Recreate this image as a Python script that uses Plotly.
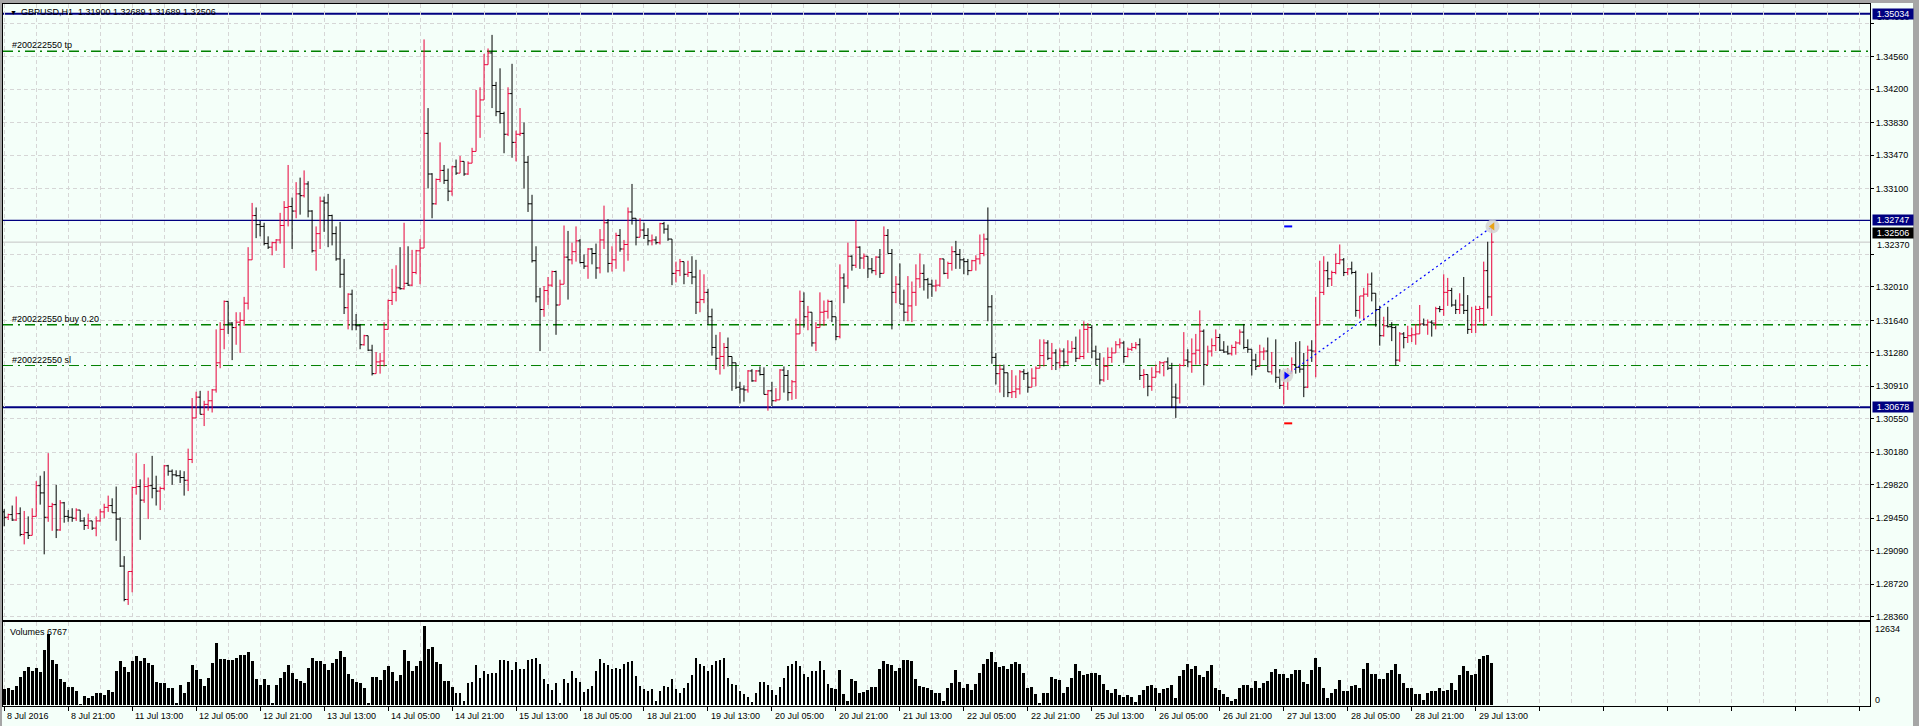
import plotly.graph_objects as go

# ---------------- data ----------------
symbol_title = "GBPUSD,H1  1.31900 1.32689 1.31689 1.32506"
first_open = 1.2952

highs = [
    1.2955,1.2950,1.2959,1.2969,1.2957,1.2953,1.2947,1.2956,1.2986,1.2992,
    1.2997,1.3017,1.2962,1.2982,1.2965,1.2963,1.2954,1.2956,1.2956,1.2951,
    1.2946,1.2950,1.2942,1.2947,1.2955,1.2961,1.2970,1.2967,1.2980,1.2946,
    1.2903,1.2886,1.2980,1.3017,1.2988,1.3005,1.2990,1.3014,1.2992,1.2980,
    1.3004,1.3004,1.2999,1.2998,1.2998,1.2997,1.3022,1.3078,1.3085,1.3086,
    1.3075,1.3086,1.3088,1.3154,1.3162,1.3186,1.3185,1.3162,1.3173,1.3173,
    1.3190,1.3245,1.3294,1.3289,1.3274,1.3272,1.3257,1.3251,1.3254,1.3283,
    1.3296,1.3336,1.3300,1.3317,1.3322,1.3330,1.3318,1.3286,1.3268,1.3301,
    1.3301,1.3304,1.3281,1.3268,1.3273,1.3232,1.3194,1.3198,1.3171,1.3160,
    1.3148,1.3147,1.3137,1.3129,1.3128,1.3162,1.3187,1.3221,1.3225,1.3245,
    1.3272,1.3246,1.3242,1.3242,1.3254,1.3475,1.3399,1.3327,1.3321,1.3361,
    1.3336,1.3332,1.3335,1.3342,1.3346,1.3340,1.3340,1.3355,1.3419,1.3422,
    1.3459,1.3465,1.3480,1.3428,1.3443,1.3395,1.3422,1.3448,1.3374,1.3399,
    1.3383,1.3346,1.3303,1.3246,1.3200,1.3202,1.3212,1.3219,1.3219,1.3209,
    1.3269,1.3263,1.3250,1.3268,1.3254,1.3237,1.3244,1.3244,1.3249,1.3265,
    1.3291,1.3276,1.3246,1.3261,1.3265,1.3253,1.3289,1.3315,1.3277,1.3277,
    1.3272,1.3266,1.3259,1.3257,1.3272,1.3273,1.3270,1.3254,1.3229,1.3232,
    1.3229,1.3230,1.3235,1.3231,1.3220,1.3215,1.3199,1.3177,1.3148,1.3151,
    1.3139,1.3145,1.3124,1.3117,1.3096,1.3092,1.3109,1.3110,1.3109,1.3113,
    1.3112,1.3087,1.3096,1.3089,1.3110,1.3113,1.3109,1.3098,1.3166,1.3197,
    1.3195,1.3180,1.3173,1.3162,1.3195,1.3186,1.3187,1.3186,1.3166,1.3226,
    1.3216,1.3250,1.3236,1.3275,1.3246,1.3238,1.3235,1.3233,1.3235,1.3243,
    1.3268,1.3265,1.3243,1.3213,1.3227,1.3198,1.3213,1.3207,1.3226,1.3238,
    1.3226,1.3211,1.3209,1.3209,1.3233,1.3232,1.3229,1.3246,1.3252,1.3243,
    1.3233,1.3232,1.3231,1.3236,1.3259,1.3260,1.3289,1.3192,1.3128,1.3115,
    1.3115,1.3105,1.3109,1.3103,1.3109,1.3110,1.3107,1.3111,1.3113,1.3143,
    1.3143,1.3142,1.3139,1.3132,1.3133,1.3133,1.3142,1.3141,1.3146,1.3154,
    1.3163,1.3161,1.3159,1.3136,1.3128,1.3123,1.3134,1.3134,1.3141,1.3144,
    1.3141,1.3134,1.3139,1.3140,1.3144,1.3110,1.3102,1.3112,1.3115,1.3119,
    1.3118,1.3123,1.3117,1.3094,1.3116,1.3151,1.3132,1.3144,1.3149,1.3175,
    1.3154,1.3136,1.3144,1.3154,1.3149,1.3141,1.3136,1.3137,1.3141,1.3154,
    1.3160,1.3143,1.3131,1.3127,1.3137,1.3134,1.3145,1.3129,1.3143,1.3110,
    1.3105,1.3111,1.3123,1.3140,1.3141,1.3128,1.3136,1.3142,1.3190,1.3230,
    1.3235,1.3229,1.3219,1.3238,1.3248,1.3233,1.3222,1.3229,1.3219,1.3191,
    1.3200,1.3216,1.3217,1.3186,1.3180,1.3168,1.3179,1.3162,1.3158,1.3151,
    1.3151,1.3158,1.3156,1.3160,1.3181,1.3166,1.3165,1.3164,1.3179,1.3180,
    1.3215,1.3211,1.3200,1.3187,1.3194,1.3212,1.3192,1.3179,1.3180,1.3180,
    1.3229,1.3251,1.32689,
]

lows = [
    1.2936,1.2943,1.2942,1.2942,1.2925,1.2916,1.2922,1.2927,1.2950,1.2960,
    1.2905,1.2941,1.2931,1.2923,1.2931,1.2940,1.2941,1.2941,1.2942,1.2941,
    1.2932,1.2933,1.2932,1.2925,1.2941,1.2945,1.2952,1.2951,1.2920,1.2891,
    1.2853,1.2849,1.2863,1.2971,1.2921,1.2962,1.2944,1.2967,1.2959,1.2954,
    1.2976,1.2992,1.2982,1.2991,1.2984,1.2970,1.2975,1.3006,1.3056,1.3060,
    1.3047,1.3064,1.3062,1.3084,1.3111,1.3132,1.3149,1.3120,1.3137,1.3128,
    1.3158,1.3176,1.3231,1.3255,1.3257,1.3247,1.3243,1.3236,1.3241,1.3249,
    1.3222,1.3268,1.3243,1.3277,1.3281,1.3300,1.3278,1.3239,1.3219,1.3243,
    1.3262,1.3245,1.3247,1.3230,1.3200,1.3171,1.3154,1.3153,1.3153,1.3132,
    1.3136,1.3130,1.3103,1.3105,1.3105,1.3113,1.3158,1.3181,1.3185,1.3198,
    1.3198,1.3202,1.3202,1.3215,1.3204,1.3244,1.3310,1.3277,1.3292,1.3317,
    1.3315,1.3296,1.3302,1.3325,1.3327,1.3324,1.3325,1.3338,1.3351,1.3366,
    1.3408,1.3448,1.3399,1.3390,1.3382,1.3349,1.3368,1.3344,1.3340,1.3368,
    1.3310,1.3284,1.3228,1.3184,1.3130,1.3168,1.3181,1.3201,1.3148,1.3186,
    1.3204,1.3187,1.3226,1.3229,1.3227,1.3221,1.3210,1.3226,1.3210,1.3216,
    1.3243,1.3217,1.3218,1.3221,1.3240,1.3218,1.3230,1.3270,1.3247,1.3256,
    1.3254,1.3247,1.3247,1.3248,1.3248,1.3260,1.3252,1.3203,1.3206,1.3213,
    1.3204,1.3212,1.3204,1.3171,1.3173,1.3183,1.3159,1.3125,1.3109,1.3104,
    1.3110,1.3113,1.3086,1.3088,1.3072,1.3074,1.3084,1.3096,1.3096,1.3103,
    1.3082,1.3064,1.3069,1.3074,1.3079,1.3084,1.3075,1.3076,1.3077,1.3154,
    1.3156,1.3153,1.3135,1.3130,1.3158,1.3158,1.3166,1.3162,1.3142,1.3144,
    1.3183,1.3199,1.3219,1.3222,1.3221,1.3221,1.3211,1.3216,1.3214,1.3211,
    1.3216,1.3238,1.3154,1.3183,1.3182,1.3163,1.3163,1.3162,1.3180,1.3200,
    1.3197,1.3188,1.3190,1.3196,1.3201,1.3215,1.3210,1.3219,1.3221,1.3221,
    1.3215,1.3214,1.3219,1.3219,1.3226,1.3235,1.3163,1.3116,1.3093,1.3084,
    1.3079,1.3079,1.3078,1.3078,1.3082,1.3098,1.3084,1.3091,1.3091,1.3113,
    1.3113,1.3120,1.3109,1.3109,1.3111,1.3113,1.3115,1.3128,1.3118,1.3121,
    1.3121,1.3128,1.3122,1.3114,1.3093,1.3096,1.3098,1.3117,1.3130,1.3133,
    1.3117,1.3123,1.3130,1.3132,1.3098,1.3089,1.3080,1.3086,1.3101,1.3105,
    1.3102,1.3109,1.3067,1.3056,1.3072,1.3113,1.3112,1.3106,1.3115,1.3115,
    1.3092,1.3115,1.3124,1.3130,1.3130,1.3128,1.3126,1.3125,1.3126,1.3137,
    1.3132,1.3128,1.3103,1.3109,1.3113,1.3120,1.3107,1.3104,1.3095,1.3088,
    1.3071,1.3087,1.3105,1.3105,1.3106,1.3079,1.3089,1.3118,1.3101,1.3181,
    1.3192,1.3201,1.3202,1.3215,1.3226,1.3213,1.3214,1.3215,1.3168,1.3166,
    1.3164,1.3190,1.3185,1.3157,1.3136,1.3146,1.3156,1.3141,1.3114,1.3118,
    1.3133,1.3139,1.3140,1.3137,1.3158,1.3158,1.3148,1.3146,1.3154,1.3173,
    1.3169,1.3180,1.3179,1.3171,1.3171,1.3171,1.3149,1.3150,1.3150,1.3162,
    1.3158,1.3177,1.31689,
]

closes = [
    1.2946,1.2949,1.2943,1.2950,1.2927,1.2929,1.2926,1.2947,1.2981,1.2973,
    1.2946,1.2958,1.2960,1.2932,1.2962,1.2947,1.2946,1.2945,1.2954,1.2942,
    1.2937,1.2942,1.2934,1.2942,1.2952,1.2957,1.2959,1.2951,1.2944,1.2892,
    1.2855,1.2886,1.2979,1.2980,1.2965,1.2980,1.2981,1.2978,1.2975,1.2978,
    1.3003,1.2997,1.2993,1.2992,1.2990,1.2987,1.3010,1.3056,1.3079,1.3060,
    1.3071,1.3075,1.3087,1.3117,1.3154,1.3185,1.3161,1.3156,1.3162,1.3164,
    1.3183,1.3231,1.3280,1.3270,1.3268,1.3249,1.3245,1.3250,1.3253,1.3269,
    1.3289,1.3290,1.3285,1.3304,1.3302,1.3315,1.3285,1.3241,1.3260,1.3296,
    1.3294,1.3280,1.3260,1.3232,1.3215,1.3178,1.3193,1.3159,1.3158,1.3137,
    1.3147,1.3131,1.3105,1.3118,1.3119,1.3154,1.3186,1.3195,1.3200,1.3199,
    1.3205,1.3203,1.3217,1.3241,1.3244,1.3371,1.3326,1.3293,1.3320,1.3330,
    1.3319,1.3307,1.3334,1.3327,1.3340,1.3326,1.3338,1.3351,1.3390,1.3408,
    1.3447,1.3460,1.3424,1.3395,1.3393,1.3370,1.3415,1.3361,1.3370,1.3371,
    1.3339,1.3293,1.3230,1.3190,1.3176,1.3197,1.3203,1.3218,1.3181,1.3204,
    1.3234,1.3231,1.3240,1.3252,1.3228,1.3224,1.3243,1.3238,1.3222,1.3253,
    1.3272,1.3227,1.3231,1.3258,1.3243,1.3248,1.3284,1.3277,1.3256,1.3264,
    1.3258,1.3252,1.3253,1.3250,1.3271,1.3265,1.3254,1.3216,1.3219,1.3229,
    1.3215,1.3217,1.3212,1.3184,1.3187,1.3195,1.3168,1.3134,1.3122,1.3124,
    1.3134,1.3124,1.3117,1.3090,1.3088,1.3087,1.3108,1.3097,1.3108,1.3104,
    1.3082,1.3086,1.3075,1.3076,1.3109,1.3103,1.3084,1.3096,1.3149,1.3185,
    1.3168,1.3173,1.3139,1.3156,1.3173,1.3174,1.3185,1.3168,1.3146,1.3211,
    1.3202,1.3235,1.3225,1.3245,1.3233,1.3235,1.3221,1.3219,1.3234,1.3216,
    1.3258,1.3238,1.3195,1.3204,1.3182,1.3173,1.3180,1.3195,1.3210,1.3216,
    1.3209,1.3204,1.3202,1.3203,1.3232,1.3216,1.3227,1.3240,1.3237,1.3231,
    1.3229,1.3219,1.3230,1.3232,1.3238,1.3254,1.3179,1.3123,1.3105,1.3110,
    1.3106,1.3084,1.3085,1.3088,1.3107,1.3105,1.3090,1.3100,1.3111,1.3125,
    1.3139,1.3122,1.3128,1.3117,1.3130,1.3118,1.3129,1.3133,1.3122,1.3124,
    1.3154,1.3156,1.3130,1.3121,1.3098,1.3113,1.3123,1.3128,1.3137,1.3139,
    1.3124,1.3132,1.3134,1.3137,1.3103,1.3104,1.3091,1.3101,1.3107,1.3117,
    1.3118,1.3111,1.3079,1.3078,1.3114,1.3120,1.3118,1.3127,1.3131,1.3152,
    1.3115,1.3130,1.3136,1.3145,1.3131,1.3129,1.3127,1.3134,1.3139,1.3151,
    1.3134,1.3132,1.3120,1.3113,1.3129,1.3130,1.3107,1.3114,1.3101,1.3092,
    1.3103,1.3105,1.3115,1.3112,1.3110,1.3090,1.3131,1.3130,1.3159,1.3195,
    1.3219,1.3210,1.3217,1.3227,1.3231,1.3217,1.3221,1.3217,1.3175,1.3191,
    1.3193,1.3204,1.3194,1.3176,1.3147,1.3158,1.3157,1.3156,1.3120,1.3149,
    1.3145,1.3147,1.3148,1.3149,1.3160,1.3159,1.3162,1.3161,1.3177,1.3176,
    1.3195,1.3197,1.3181,1.3176,1.3181,1.3175,1.3154,1.3159,1.3176,1.3177,
    1.3219,1.3190,1.32506,
]

volumes = [
    2480,2640,2370,3000,4480,5430,6060,5430,5900,5270,
    8850,11330,7220,6480,4060,3690,2790,2790,2270,110,
    1420,1050,1480,1840,1950,1580,2320,2110,5430,6960,
    6060,5270,7110,7900,6960,7480,6750,6320,3640,3430,
    3530,2640,2640,260,3160,1840,3690,6320,5640,4060,
    3000,4320,6690,9910,7380,7380,7270,7220,7540,8060,
    8060,8540,6960,4110,3160,4220,3160,260,3160,4370,
    5270,6320,5110,4060,3850,3430,5960,7540,7110,6960,
    6480,5530,6690,7330,8700,7750,4900,4220,3690,3530,
    2640,260,4480,4480,3950,5640,6170,5270,3850,4740,
    8800,6960,5380,6170,7110,12634,8960,9220,6850,6590,
    3790,3790,2790,1840,1950,530,3530,3690,6320,4320,
    5380,5010,5110,5110,7270,7270,7110,5640,6850,5690,
    5690,7220,7380,7540,6590,4220,3270,2370,3430,260,
    4110,3530,5380,4370,3690,2110,2480,3000,5380,7380,
    6690,6430,5800,5900,5800,6590,6850,6960,4580,3000,
    2480,2270,2480,530,2210,3060,2790,4060,2480,1840,
    2640,3530,4740,7540,6590,6170,5380,6320,7010,7220,
    7540,4370,3320,3160,2210,1690,1320,420,1840,3580,
    3690,3160,2370,1580,2790,4320,6220,6480,7110,6170,
    4900,4480,5430,5430,6960,5530,3320,2640,2480,5640,
    1690,530,4060,3790,1840,2110,2370,2790,2790,5800,
    7110,6590,6430,5380,5900,7220,7220,7010,4110,3060,
    2790,2640,2370,1950,1840,530,2640,3530,5530,3690,
    2640,3320,2370,3320,5110,6590,7380,8430,6850,6060,
    6170,5800,6590,6850,6590,5110,2640,2900,1740,160,
    1950,1950,4480,4220,3950,1840,2790,4370,6590,5430,
    4740,5010,5110,5110,4740,3270,2370,1950,2480,1580,
    1320,1580,1210,420,1580,2370,3000,3160,2640,1840,
    2480,2740,3160,1160,4580,5530,6590,5800,6170,4740,
    4480,5380,6430,2640,2370,1690,1320,630,900,2640,
    3160,3160,2740,3790,2740,3430,3790,5270,5800,5010,
    4900,4370,4900,5530,5530,3690,3320,5530,7540,6060,
    2640,1050,1840,2480,3950,2270,2270,3000,3160,2640,
    5800,6690,5010,4900,4220,4220,5110,5640,6590,5010,
    3530,2640,2640,1740,1740,790,1950,2270,2270,2640,
    2270,2370,3530,2370,4740,6170,5430,4740,5010,7380,
    7900,8060,6767,
]

time_labels = [
    "8 Jul 2016", "8 Jul 21:00", "11 Jul 13:00", "12 Jul 05:00", "12 Jul 21:00",
    "13 Jul 13:00", "14 Jul 05:00", "14 Jul 21:00", "15 Jul 13:00", "18 Jul 05:00",
    "18 Jul 21:00", "19 Jul 13:00", "20 Jul 05:00", "20 Jul 21:00", "21 Jul 13:00",
    "22 Jul 05:00", "22 Jul 21:00", "25 Jul 13:00", "26 Jul 05:00", "26 Jul 21:00",
    "27 Jul 13:00", "28 Jul 05:00", "28 Jul 21:00", "29 Jul 13:00",
]
bars_per_label = 16
bars_per_grid = 8

price_ticks = [1.34930, 1.34560, 1.34200, 1.33830, 1.33470, 1.33100,
               1.32370, 1.32010, 1.31640, 1.31280, 1.30910, 1.30550, 1.30180,
               1.29820, 1.29450, 1.29090, 1.28720, 1.28360]
ticks_label_moved = [1.34930, 1.32370]

level_prices = [1.35034, 1.32747, 1.30678]
bid_price = 1.32506
order_id = "#200222550"
order_tp = 1.3462
order_open = 1.3159
order_sl = 1.3114
order_lots = "0.20"
trade_bars = [320.6, 372.2]
trade_prices = [1.3103, 1.3268]
trade_tp_mark = 1.3268
trade_sl_mark = 1.3050
trade_mark_bars = [320.1, 322.1]
volume_max = 12634
last_volume = 6767

# ---------------- styling / geometry ----------------
W, H = 1919, 726
ML, MR, MT, MB = 3, 49, 4, 20
PW, PH = W - ML - MR, H - MT - MB
BG = "#F4FFF9"
GRID = "#D6D6D6"
NAVY = "#000080"
GREEN = "#008000"
RED = "#E8003A"
FONT = "Liberation Sans"


def px_x(px):
    return (px - ML) / PW


def px_y(py):
    return (H - MB - py) / PH


n = len(closes)
if not (len(highs) == len(lows) == len(volumes) == n):
    raise ValueError(f"length mismatch {len(highs)} {len(lows)} {len(closes)} {len(volumes)}")

bars = list(range(n))
opens = [first_open] + closes[:-1]
hi = [max(h, o, c) for h, o, c in zip(highs, opens, closes)]
lo = [min(l, o, c) for l, o, c in zip(lows, opens, closes)]

fig = go.Figure()
fig.add_trace(go.Ohlc(
    x=bars, open=opens, high=hi, low=lo, close=closes,
    increasing=dict(line=dict(color=RED, width=1)),
    decreasing=dict(line=dict(color="#000000", width=1)),
    tickwidth=0.5, xaxis="x", yaxis="y", hoverinfo="skip", showlegend=False,
))
fig.add_trace(go.Bar(
    x=bars, y=volumes, width=0.72, marker=dict(color="#000000", line=dict(width=0)),
    xaxis="x2", yaxis="y2", hoverinfo="skip", showlegend=False,
))

# trade path and markers
fig.add_trace(go.Scatter(
    x=trade_bars, y=trade_prices, mode="lines",
    line=dict(color="#0000FF", width=1.2, dash="2px,3px"),
    xaxis="x", yaxis="y", hoverinfo="skip", showlegend=False,
))
fig.add_trace(go.Scatter(
    x=trade_bars, y=trade_prices, mode="markers",
    marker=dict(symbol="circle", size=14, color="#D4D4D4", opacity=0.85),
    xaxis="x", yaxis="y", hoverinfo="skip", showlegend=False,
))
fig.add_trace(go.Scatter(
    x=trade_bars, y=trade_prices, mode="markers",
    marker=dict(symbol=["triangle-right", "triangle-left"], size=7,
                color=["#0000FF", "#E8A317"]),
    xaxis="x", yaxis="y", hoverinfo="skip", showlegend=False,
))

shapes = []
for p, w in zip(level_prices, [2, 1.2, 2]):
    shapes.append(dict(type="line", xref="paper", yref="y", x0=0, x1=1, y0=p, y1=p,
                       line=dict(color=NAVY, width=w), layer="between"))
shapes.append(dict(type="line", xref="paper", yref="y", x0=0, x1=1, y0=bid_price, y1=bid_price,
                   line=dict(color="#C4C4C4", width=1), layer="between"))
for p, w in zip([order_tp, order_open, order_sl], [1.5, 1.5, 1]):
    shapes.append(dict(type="line", xref="paper", yref="y", x0=0, x1=1, y0=p, y1=p,
                       line=dict(color=GREEN, width=w, dash="10px,5px,2px,5px"), layer="between"))
for p, c in zip([trade_tp_mark, trade_sl_mark], ["#0000FF", "#FF0000"]):
    shapes.append(dict(type="line", xref="x", yref="y", x0=trade_mark_bars[0], x1=trade_mark_bars[1],
                       y0=p, y1=p, line=dict(color=c, width=2)))
# window border (gray)
gray = "#A6A6A6"
shapes.append(dict(type="rect", xref="paper", yref="paper", x0=px_x(1913), x1=px_x(1921),
                   y0=px_y(728), y1=px_y(-2), fillcolor=gray, line=dict(width=0), layer="above"))
shapes.append(dict(type="rect", xref="paper", yref="paper", x0=px_x(-2), x1=px_x(1921),
                   y0=px_y(3), y1=px_y(-2), fillcolor=gray, line=dict(width=0), layer="above"))
shapes.append(dict(type="rect", xref="paper", yref="paper", x0=px_x(-2), x1=px_x(2),
                   y0=px_y(728), y1=px_y(-2), fillcolor=gray, line=dict(width=0), layer="above"))

ann = []
f9 = dict(family=FONT, size=9, color="#000000")
# header
ann.append(dict(xref="paper", yref="paper", x=px_x(8), y=px_y(12.5), text="▼", showarrow=False,
                xanchor="left", yanchor="middle", font=dict(family=FONT, size=7, color="#000000")))
ann.append(dict(xref="paper", yref="paper", x=px_x(19), y=px_y(12.5), text=symbol_title,
                showarrow=False, xanchor="left", yanchor="middle", font=f9))
# order labels
for p, lbl in zip([order_tp, order_open, order_sl], ["tp", "buy " + order_lots, "sl"]):
    ann.append(dict(xref="paper", yref="y", x=px_x(10), y=p, text=f"{order_id} {lbl}",
                    showarrow=False, xanchor="left", yanchor="bottom", yshift=-1, font=f9))
# moved tick labels
for p, s in zip(ticks_label_moved, [6, 9]):
    ann.append(dict(xref="paper", yref="y", x=1, y=p, yshift=s, xshift=5, text=f"{p:.5f}",
                    showarrow=False, xanchor="left", yanchor="middle", font=f9))
# price boxes
for p in level_prices:
    ann.append(dict(xref="paper", yref="y", x=1, y=p, xshift=2, text=f"{p:.5f}", showarrow=False,
                    xanchor="left", yanchor="middle", width=40, height=10, borderpad=0,
                    bgcolor=NAVY, font=dict(family=FONT, size=9, color="#FFFFFF")))
ann.append(dict(xref="paper", yref="y", x=1, y=bid_price, yshift=9, xshift=2, text=f"{bid_price:.5f}",
                showarrow=False, xanchor="left", yanchor="middle", width=40, height=10, borderpad=0,
                bgcolor="#000000", font=dict(family=FONT, size=9, color="#FFFFFF")))
# volume labels
ann.append(dict(xref="paper", yref="paper", x=px_x(8), y=px_y(632), text=f"Volumes {last_volume}",
                showarrow=False, xanchor="left", yanchor="middle", font=f9))
ann.append(dict(xref="paper", yref="paper", x=1, xshift=3, y=px_y(629), text=str(volume_max),
                showarrow=False, xanchor="left", yanchor="middle", font=f9))
ann.append(dict(xref="paper", yref="paper", x=1, xshift=3, y=px_y(700), text="0",
                showarrow=False, xanchor="left", yanchor="middle", font=f9))
# time labels
for k, t in enumerate(time_labels):
    ann.append(dict(xref="x", yref="paper", x=k * bars_per_label, xshift=1, y=px_y(716), text=t,
                    showarrow=False, xanchor="left", yanchor="middle", font=f9))

x_right = (1870 - 3.6) / 4
x_left = -0.3
grid_vals = list(range(0, int(x_right) + 1, bars_per_grid))
label_vals = list(range(0, int(x_right) + 1, bars_per_label))

tick_text = ["" if v in ticks_label_moved else f"{v:.5f}" for v in price_ticks]

vol_top_px, vol_bot_px = 622, 706
main_top_px, main_bot_px = 4, 620

fig.update_layout(
    width=W, height=H,
    margin=dict(l=ML, r=MR, t=MT, b=MB, pad=0),
    paper_bgcolor=BG, plot_bgcolor=BG,
    showlegend=False, bargap=0,
    font=dict(family=FONT, size=9, color="#000000"),
    shapes=shapes, annotations=ann,
    xaxis=dict(domain=[0, 1], anchor="y", range=[x_left, x_right],
               tickmode="array", tickvals=grid_vals, showticklabels=False, ticks="",
               showgrid=True, gridcolor=GRID, gridwidth=1, griddash="4px,3px",
               showline=True, mirror=True, linecolor="#000000", linewidth=1,
               zeroline=False, rangeslider=dict(visible=False), fixedrange=True),
    xaxis2=dict(domain=[0, 1], anchor="y2", range=[x_left, x_right], matches="x",
                tickmode="array", tickvals=label_vals, showticklabels=False,
                ticks="outside", ticklen=4, tickcolor="#000000", tickwidth=1,
                showgrid=True, gridcolor=GRID, gridwidth=1, griddash="4px,3px",
                minor=dict(tickmode="array", tickvals=grid_vals, showgrid=True, gridcolor=GRID,
                           griddash="4px,3px", ticks=""),
                showline=True, mirror=True, linecolor="#000000", linewidth=1,
                zeroline=False, fixedrange=True),
    yaxis=dict(domain=[px_y(main_bot_px), 1], anchor="x", side="right",
               range=[1.28323, 1.35142],
               tickmode="array", tickvals=price_ticks, ticktext=tick_text,
               ticks="outside", ticklen=3, tickcolor="#000000", tickwidth=1,
               tickfont=dict(family=FONT, size=9, color="#000000"),
               showgrid=True, gridcolor=GRID, gridwidth=1, griddash="4px,3px",
               showline=True, mirror=True, linecolor="#000000", linewidth=1,
               zeroline=False, fixedrange=True),
    yaxis2=dict(domain=[0, px_y(vol_top_px)], anchor="x2", side="right",
                range=[-200, 13300], showticklabels=False, ticks="", showgrid=False,
                showline=True, mirror=True, linecolor="#000000", linewidth=1,
                zeroline=False, fixedrange=True),
)

fig.write_html(
    "out.html",
    config={"displayModeBar": False},
    post_script="document.body.style.margin='0';document.body.style.padding='0';"
                "document.body.style.overflow='hidden';"
                "document.documentElement.style.overflow='hidden';",
)
